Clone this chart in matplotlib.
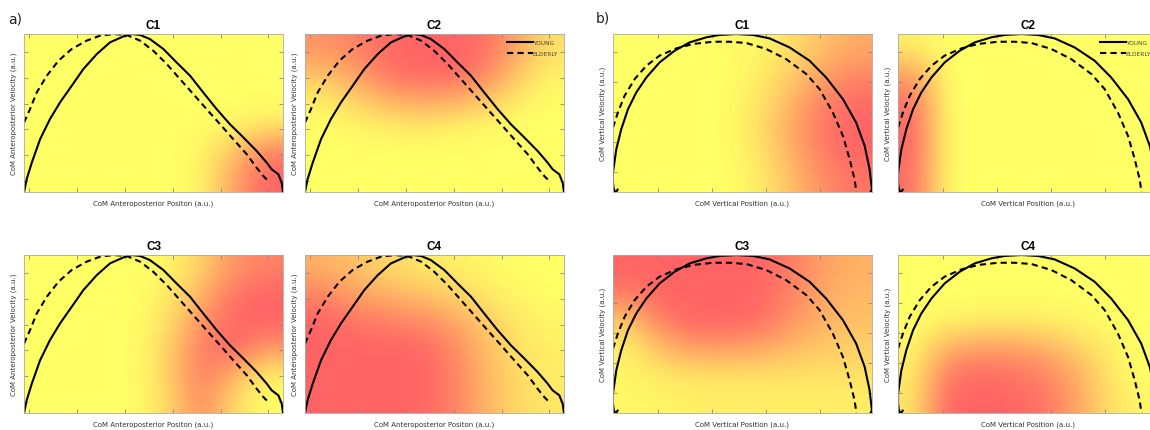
import numpy as np
import matplotlib.pyplot as plt
from matplotlib.colors import LinearSegmentedColormap

# CoM trajectories, normalised to the plotting box (0..1 on both axes)
# a) anteroposterior phase plane
ap_young_x = [0.0, 0.010, 0.030, 0.062, 0.100, 0.139, 0.184, 0.229, 0.281, 0.332, 0.384, 0.416,
              0.448, 0.486, 0.538, 0.589, 0.641, 0.692, 0.744, 0.795, 0.847, 0.898, 0.937, 0.956,
              0.982, 0.995, 1.0]
ap_young_y = [0.0, 0.080, 0.186, 0.334, 0.461, 0.567, 0.672, 0.778, 0.873, 0.947, 0.985, 1.0,
              0.994, 0.968, 0.905, 0.820, 0.736, 0.630, 0.524, 0.429, 0.345, 0.260, 0.186, 0.144,
              0.112, 0.059, 0.0]
ap_elderly_x = [0.0, 0.023, 0.049, 0.088, 0.133, 0.184, 0.242, 0.293, 0.345, 0.396, 0.448, 0.499,
                0.551, 0.602, 0.654, 0.705, 0.757, 0.808, 0.860, 0.898, 0.924, 0.943]
ap_elderly_y = [0.44, 0.524, 0.630, 0.736, 0.831, 0.905, 0.958, 0.989, 1.0, 0.994, 0.958, 0.894,
                0.810, 0.715, 0.619, 0.524, 0.429, 0.334, 0.239, 0.154, 0.101, 0.070]

# b) vertical phase plane
v_young_x = [0.018, 0.010, 0.003, 0.0, 0.0, 0.013, 0.032, 0.058, 0.090, 0.129, 0.180, 0.238, 0.296,
             0.361, 0.412, 0.476, 0.541, 0.605, 0.682, 0.759, 0.823, 0.888, 0.939, 0.972, 0.991,
             1.0, 0.995]
v_young_y = [0.015, -0.005, 0.02, 0.06, 0.123, 0.271, 0.397, 0.524, 0.630, 0.725, 0.820, 0.894,
             0.947, 0.979, 0.994, 1.0, 0.994, 0.972, 0.915, 0.831, 0.725, 0.588, 0.440, 0.292,
             0.144, 0.017, 0.0]
v_elderly_x = [0.0, 0.019, 0.045, 0.084, 0.129, 0.180, 0.245, 0.309, 0.386, 0.451, 0.515, 0.592,
               0.669, 0.747, 0.798, 0.849, 0.888, 0.914, 0.933, 0.940]
v_elderly_y = [0.408, 0.503, 0.609, 0.715, 0.799, 0.863, 0.909, 0.937, 0.951, 0.951, 0.943, 0.905,
               0.841, 0.746, 0.651, 0.503, 0.355, 0.207, 0.080, 0.0]

# cluster activation maps (rows top -> bottom, 0 = yellow, 1 = red)
ap_c1 = [[0, 0, 0, 0, 0, 0, 0, 0],
         [0, 0, 0, 0, 0, 0, 0, 0],
         [0, 0, 0, 0, 0, 0, 0, 0],
         [0, 0, 0, 0, 0, 0, 0.05, 0.15],
         [0, 0, 0, 0, 0, 0.05, 0.4, 0.85],
         [0, 0, 0, 0, 0, 0.05, 0.6, 1.0]]
ap_c2 = [[0.7, 0.8, 0.95, 1, 1, 0.95, 0.6, 0.2],
         [0.4, 0.6, 0.9, 1, 1, 0.85, 0.4, 0.1],
         [0.1, 0.3, 0.5, 0.6, 0.55, 0.4, 0.15, 0],
         [0, 0.05, 0.1, 0.15, 0.1, 0.05, 0, 0],
         [0, 0, 0, 0, 0, 0, 0, 0],
         [0, 0, 0, 0, 0, 0, 0, 0]]
ap_c3 = [[0, 0, 0, 0, 0.05, 0.3, 0.7, 0.8],
         [0, 0, 0, 0, 0.1, 0.5, 0.9, 1.0],
         [0, 0, 0, 0, 0.2, 0.7, 1.0, 1.0],
         [0, 0, 0, 0, 0.3, 0.85, 1.0, 0.7],
         [0, 0, 0, 0, 0.3, 0.9, 0.5, 0.1],
         [0, 0, 0, 0, 0.25, 0.8, 0.2, 0.0]]
ap_c4 = [[0.5, 0.4, 0.25, 0.15, 0.1, 0.05, 0, 0],
         [0.8, 0.6, 0.5, 0.4, 0.3, 0.15, 0.05, 0],
         [1, 0.9, 0.8, 0.75, 0.6, 0.35, 0.15, 0.05],
         [1, 1, 1, 1, 0.8, 0.45, 0.2, 0.1],
         [1, 1, 1, 1, 0.85, 0.5, 0.25, 0.1],
         [1, 1, 1, 1, 0.85, 0.5, 0.25, 0.15]]
v_c1 = [[0, 0, 0, 0, 0.05, 0.2, 0.4, 0.55],
        [0, 0, 0, 0, 0.1, 0.3, 0.6, 0.75],
        [0, 0, 0, 0, 0.15, 0.45, 0.8, 0.95],
        [0, 0, 0, 0, 0.2, 0.55, 0.9, 1.0],
        [0, 0, 0, 0, 0.15, 0.5, 0.85, 1.0],
        [0, 0, 0, 0, 0.1, 0.4, 0.75, 0.9]]
v_c2 = [[0.1, 0, 0, 0, 0, 0, 0, 0],
        [0.6, 0, 0, 0, 0, 0, 0, 0],
        [0.9, 0, 0, 0, 0, 0, 0, 0],
        [1.0, 0, 0, 0, 0, 0, 0, 0],
        [1.0, 0, 0, 0, 0, 0, 0, 0],
        [0.95, 0, 0, 0, 0, 0, 0, 0]]
v_c3 = [[1, 1, 1, 1, 1, 0.85, 0.6, 0.5],
        [0.85, 1, 1, 1, 1, 0.8, 0.55, 0.45],
        [0.35, 0.85, 1, 1, 0.95, 0.7, 0.5, 0.4],
        [0.1, 0.45, 0.65, 0.65, 0.6, 0.45, 0.35, 0.3],
        [0.05, 0.15, 0.2, 0.2, 0.2, 0.2, 0.2, 0.2],
        [0.05, 0.05, 0.1, 0.1, 0.1, 0.1, 0.1, 0.1]]
v_c4 = [[0, 0, 0, 0, 0, 0, 0, 0],
        [0, 0, 0, 0, 0, 0, 0, 0],
        [0, 0.05, 0.1, 0.1, 0.1, 0.05, 0, 0],
        [0.05, 0.5, 0.6, 0.6, 0.5, 0.3, 0.1, 0],
        [0.1, 0.85, 0.95, 0.9, 0.8, 0.55, 0.15, 0],
        [0.15, 1, 1, 1, 0.9, 0.6, 0.2, 0.05]]

titles = ["C1", "C2", "C3", "C4"]

cmap = LinearSegmentedColormap.from_list("yr", ["#ffff66", "#ff6464"])
plt.rcParams["font.family"] = "DejaVu Sans"

fig = plt.figure(figsize=(11.5, 4.31), dpi=100)

col_left = [0.0209, 0.2652, 0.5330, 0.7809]
row_bottom = [0.5522, 0.0394]
w, h = 0.2252, 0.3666

groups = [
    dict(maps=[ap_c1, ap_c2, ap_c3, ap_c4], young=(ap_young_x, ap_young_y),
         elderly=(ap_elderly_x, ap_elderly_y),
         xlabel="CoM Anteroposterior Positon (a.u.)",
         ylabel="CoM Anteroposterior Velocity (a.u.)",
         xticks=[0.021 + 0.1845 * k for k in range(6)],
         yticks=[0.070 + 0.163 * k for k in range(6)]),
    dict(maps=[v_c1, v_c2, v_c3, v_c4], young=(v_young_x, v_young_y),
         elderly=(v_elderly_x, v_elderly_y),
         xlabel="CoM Vertical Position (a.u.)",
         ylabel="CoM Vertical Velocity (a.u.)",
         xticks=[0.174 + 0.209 * k for k in range(4)],
         yticks=[0.124 + 0.19 * k for k in range(5)]),
]

for g, grp in enumerate(groups):
    for i in range(4):
        r, c = divmod(i, 2)
        ax = fig.add_axes([col_left[2 * g + c], row_bottom[r], w, h])
        ax.imshow(np.array(grp["maps"][i]), cmap=cmap, vmin=0, vmax=1, extent=(0, 1, 0, 1),
                  aspect="auto", interpolation="bicubic", origin="upper")
        ax.plot(*grp["young"], color="black", lw=1.5, label="YOUNG")
        ax.plot(*grp["elderly"], color="black", lw=1.5, ls=(0, (3, 2)), label="ELDERLY")
        ax.set_xlim(0, 1)
        ax.set_ylim(0, 1)
        ax.set_xticks(grp["xticks"])
        ax.set_yticks(grp["yticks"])
        ax.set_xticklabels([])
        ax.set_yticklabels([])
        ax.tick_params(direction="in", length=3, width=0.6, color="#888888",
                       top=True, right=True)
        for s in ax.spines.values():
            s.set_color("#aaaaaa")
            s.set_linewidth(0.6)
        ax.set_title(titles[i], fontsize=8.5, fontweight="bold", family="Liberation Sans", pad=4)
        ax.set_xlabel(grp["xlabel"], fontsize=5, color="#333333", labelpad=2)
        ax.set_ylabel(grp["ylabel"], fontsize=5, color="#333333", labelpad=1.5)
        if i == 1:
            ax.legend(loc="upper right", fontsize=4.2, frameon=False, handlelength=4.5,
                      handletextpad=0.0, labelspacing=1.1, borderaxespad=0.6,
                      labelcolor="#444444")

fig.text(0.007, 0.945, "a)", fontsize=10, color="#222222")
fig.text(0.518, 0.948, "b)", fontsize=10, color="#222222")

fig.savefig("out.png", dpi=100)
